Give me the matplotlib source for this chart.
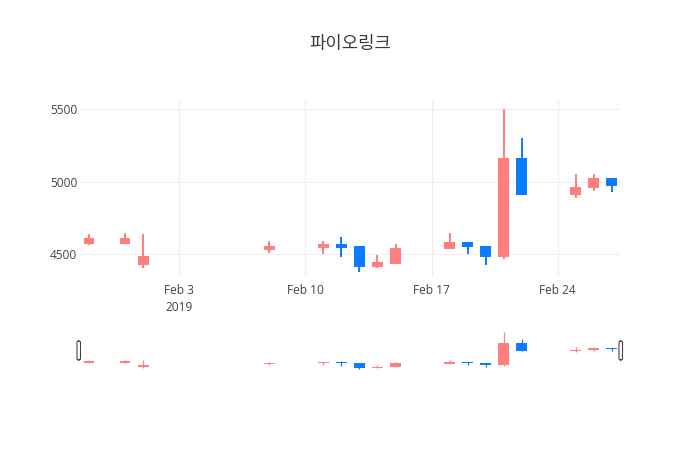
import numpy as np
import pandas as pd
import matplotlib
matplotlib.use("Agg")
import matplotlib.pyplot as plt
import matplotlib.dates as mdates
from matplotlib.patches import FancyBboxPatch

plt.rcParams['font.family'] = ['Open Sans', 'Noto Sans CJK KR', 'DejaVu Sans']

# 데이터
dates = ['2019-01-29', '2019-01-31', '2019-02-01', '2019-02-08', '2019-02-11',
         '2019-02-12', '2019-02-13', '2019-02-14', '2019-02-15', '2019-02-18',
         '2019-02-19', '2019-02-20', '2019-02-21', '2019-02-22', '2019-02-25',
         '2019-02-26', '2019-02-27']
open_ = [4570, 4570, 4430, 4530, 4545, 4575, 4560, 4415, 4435, 4535,
         4585, 4560, 4485, 5165, 4910, 4955, 5025]
high = [4640, 4645, 4640, 4590, 4590, 4620, 4560, 4495, 4575, 4650,
        4585, 4560, 5500, 5300, 5050, 5050, 5025]
low = [4565, 4570, 4405, 4510, 4500, 4480, 4380, 4410, 4435, 4535,
       4505, 4425, 4470, 4910, 4890, 4935, 4930]
close = [4610, 4610, 4490, 4555, 4575, 4545, 4415, 4445, 4545, 4585,
         4550, 4485, 5165, 4910, 4965, 5025, 4970]

title = '파이오링크'
up_color = '#ff7f7f'
down_color = '#0a7cff'

x = mdates.date2num(pd.to_datetime(dates))
o = np.array(open_)
c = np.array(close)
h = np.array(high)
l = np.array(low)
colors = [up_color if cc >= oo else down_color for oo, cc in zip(o, c)]
bottoms = np.minimum(o, c)
heights = np.maximum(np.abs(c - o), 1)

W, H = 700, 450
fig = plt.figure(figsize=(7, 4.5), dpi=100)
fig.patch.set_facecolor('white')

xlim = (x[0] - 0.5, x[-1] + 0.45)
ylim = (4345, 5562)


def draw_candles(ax, lw):
	ax.vlines(x, l, h, colors=colors, linewidth=lw, zorder=2)
	ax.bar(x, heights, bottom=bottoms, width=0.6, color=colors, linewidth=0, zorder=3)


# 메인 차트
ax = fig.add_axes([80 / W, (H - 277) / H, 540 / W, 177 / H])
draw_candles(ax, 1.4)
ax.set_xlim(*xlim)
ax.set_ylim(*ylim)
ax.set_yticks([4500, 5000, 5500])
ax.set_yticklabels(['4500', '5000', '5500'])
ticks = mdates.date2num(pd.to_datetime(['2019-02-03', '2019-02-10', '2019-02-17', '2019-02-24']))
ax.set_xticks(ticks)
ax.set_xticklabels(['Feb 3\n2019', 'Feb 10', 'Feb 17', 'Feb 24'])
ax.grid(True, color='#eeeeee', linewidth=0.8, zorder=0)
ax.set_axisbelow(True)
for s in ax.spines.values():
	s.set_visible(False)
ax.tick_params(length=0, labelsize=8.6, labelcolor='#444444')
ax.tick_params(axis='x', pad=5)
ax.tick_params(axis='y', pad=2)
for t in ax.get_xticklabels():
	t.set_linespacing(1.4)
	t.set_verticalalignment('top')

# 레인지 슬라이더
ax2 = fig.add_axes([80 / W, 80 / H, 540 / W, 40 / H])
draw_candles(ax2, 0.9)
ax2.set_xlim(*xlim)
ax2.set_ylim(*ylim)
ax2.set_xticks([])
ax2.set_yticks([])
for s in ax2.spines.values():
	s.set_visible(False)

# 슬라이더 손잡이
for px in [77, 619]:
	handle = FancyBboxPatch((px / W, (H - 360) / H), 3.5 / W, 19 / H,
							boxstyle='round,pad=0,rounding_size=0.003',
							transform=fig.transFigure, facecolor='white',
							edgecolor='#444444', linewidth=0.8, zorder=5)
	fig.patches.append(handle)

fig.text(0.5, 1 - 44 / H, title, ha='center', va='center', fontsize=12.8,
		 color='#3a3a3a', fontweight='medium', family=['Noto Sans CJK KR', 'DejaVu Sans'])

fig.savefig('out.png', dpi=100)
